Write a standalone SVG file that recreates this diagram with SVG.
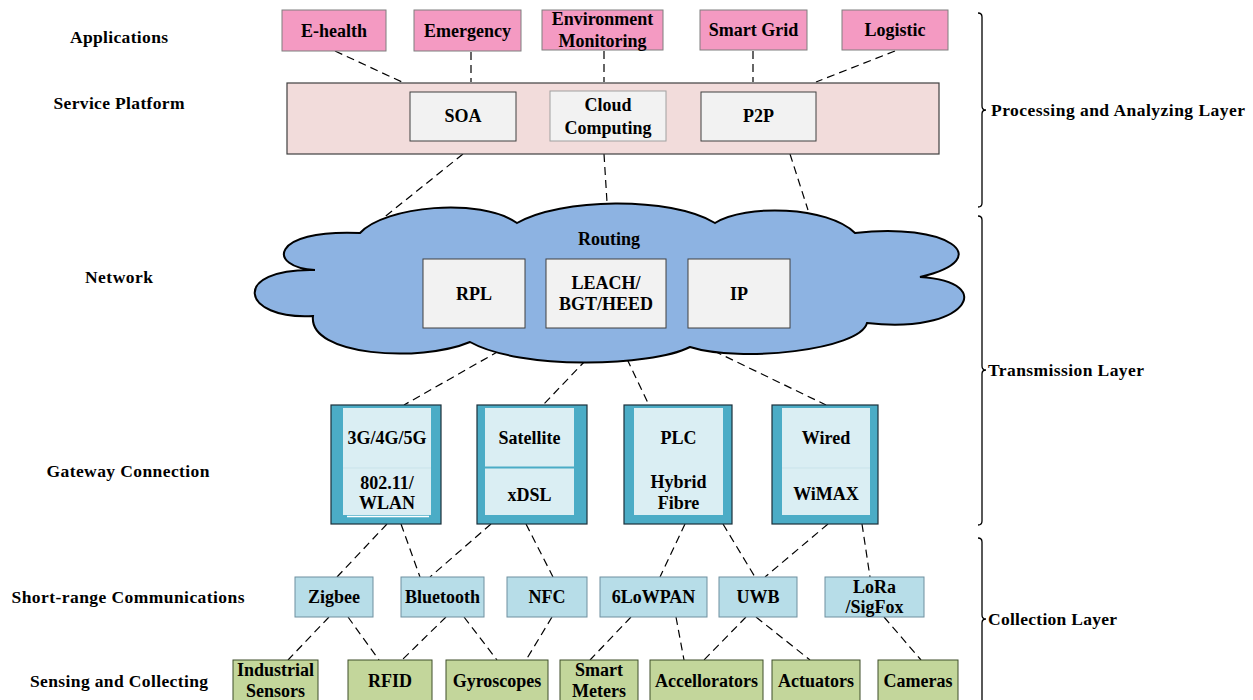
<svg xmlns="http://www.w3.org/2000/svg" width="1253" height="700" viewBox="0 0 1253 700">
<style>
text{font-family:"Liberation Serif","Times New Roman",serif;font-weight:bold;fill:#000}
.n{font-size:18px;text-anchor:middle}
.lbl{font-size:17.5px;text-anchor:middle}
.lay{font-size:17.5px}
.app{fill:#f49ac2;stroke:#7f7f7f;stroke-width:1}
.gray{fill:#f2f2f2;stroke:#404040;stroke-width:1}
.gw{fill:#4bacc6;stroke:#1b2f3a;stroke-width:1.2}
.gwi{fill:#daeef3;stroke:none}
.sr{fill:#b7dde8;stroke:#6f8f9f;stroke-width:1}
.sc{fill:#c3d69b;stroke:#3f4f2a;stroke-width:1}
.c line{stroke:#000;stroke-width:1.2;stroke-dasharray:8,5;fill:none}
.br{fill:none;stroke:#000;stroke-width:1.3}
</style>

<!-- left labels -->
<g id="left-labels">
<text class="lbl" x="119" y="43" textLength="98">Applications</text>
<text class="lbl" x="119" y="109" textLength="131">Service Platform</text>
<text class="lbl" x="119" y="283" textLength="68">Network</text>
<text class="lbl" x="128" y="477" textLength="163">Gateway Connection</text>
<text class="lbl" x="128" y="603" textLength="233">Short-range Communications</text>
<text class="lbl" x="119" y="687" textLength="178">Sensing and Collecting</text>
</g>

<!-- connectors -->
<g id="connectors" class="c">
<line x1="335" y1="51" x2="402" y2="82"/>
<line x1="471" y1="52" x2="471" y2="82"/>
<line x1="604" y1="51" x2="604" y2="82"/>
<line x1="753" y1="51" x2="753" y2="82"/>
<line x1="895" y1="51" x2="816" y2="82"/>
<line x1="463" y1="154" x2="382" y2="219"/>
<line x1="604" y1="154" x2="607" y2="202"/>
<line x1="790" y1="154" x2="808" y2="210"/>
<line x1="499" y1="351" x2="404" y2="405"/>
<line x1="586" y1="360" x2="543" y2="405"/>
<line x1="627" y1="359" x2="649" y2="405"/>
<line x1="714" y1="351" x2="826" y2="405"/>
<line x1="387" y1="524" x2="337" y2="577"/>
<line x1="401" y1="524" x2="420" y2="577"/>
<line x1="491" y1="524" x2="430" y2="577"/>
<line x1="526" y1="524" x2="553" y2="577"/>
<line x1="685" y1="524" x2="660" y2="577"/>
<line x1="723" y1="524" x2="755" y2="577"/>
<line x1="828" y1="524" x2="765" y2="577"/>
<line x1="862" y1="524" x2="870" y2="577"/>
<line x1="329" y1="617" x2="288" y2="660"/>
<line x1="348" y1="617" x2="379" y2="660"/>
<line x1="446" y1="617" x2="402" y2="660"/>
<line x1="464" y1="617" x2="497" y2="660"/>
<line x1="552" y1="617" x2="526" y2="660"/>
<line x1="631" y1="617" x2="590" y2="660"/>
<line x1="676" y1="617" x2="684" y2="660"/>
<line x1="746" y1="617" x2="704" y2="660"/>
<line x1="756" y1="617" x2="810" y2="660"/>
<line x1="884" y1="617" x2="921" y2="660"/>
</g>

<!-- applications -->
<g id="app-ehealth"><rect class="app" x="282" y="10" width="104" height="41"/><text class="n" x="334" y="37">E-health</text></g>
<g id="app-emergency"><rect class="app" x="414" y="10" width="107" height="41"/><text class="n" x="467.5" y="37">Emergency</text></g>
<g id="app-environment"><rect class="app" x="542" y="10" width="121" height="40"/><text class="n" x="602.5" y="25">Environment</text><text class="n" x="602.5" y="47">Monitoring</text></g>
<g id="app-smartgrid"><rect class="app" x="700" y="10" width="107" height="40"/><text class="n" x="753.5" y="36">Smart Grid</text></g>
<g id="app-logistic"><rect class="app" x="842" y="10" width="106" height="40"/><text class="n" x="895" y="36">Logistic</text></g>

<!-- service platform -->
<g id="service-platform">
<rect x="287" y="83" width="652" height="71" fill="#f2dcdb" stroke="#404040" stroke-width="1.2"/>
</g>
<g id="sp-soa"><rect class="gray" x="410" y="92" width="106" height="49"/><text class="n" x="463" y="122">SOA</text></g>
<g id="sp-cloud"><rect x="550" y="91" width="116" height="50" fill="#f2f2f2" stroke="#a0a0a0" stroke-width="1"/><text class="n" x="608" y="111">Cloud</text><text class="n" x="608" y="134">Computing</text></g>
<g id="sp-p2p"><rect class="gray" x="701" y="92" width="115" height="49"/><text class="n" x="758.5" y="122">P2P</text></g>

<!-- network cloud -->
<g id="network-cloud">
<path d="M360,233 C385,206 480,197 517,223 C560,198 670,196 715,223 C745,204 828,206 855,233 C945,222 1000,258 920,277 C1000,282 965,335 867,323 C860,350 740,363 690,347 C650,367 520,370 470,342 C420,363 308,356 313,316 C240,320 230,268 315,270 C268,268 268,229 360,233 Z" fill="#8db3e2" stroke="#000" stroke-width="2"/>
<text class="n" x="609" y="245">Routing</text>
</g>
<g id="net-rpl"><rect class="gray" x="423" y="259" width="102" height="69" stroke="#595959"/><text class="n" x="474" y="300">RPL</text></g>
<g id="net-leach"><rect class="gray" x="546" y="259" width="120" height="69" stroke="#595959"/><text class="n" x="606" y="289">LEACH/</text><text class="n" x="606" y="310">BGT/HEED</text></g>
<g id="net-ip"><rect class="gray" x="688" y="259" width="102" height="69" stroke="#595959"/><text class="n" x="739" y="300">IP</text></g>

<!-- gateway connection -->
<g id="gw-1">
<rect class="gw" x="331" y="405" width="110" height="119"/>
<rect class="gwi" x="343" y="408" width="88" height="107"/>
<line x1="343" y1="468" x2="431" y2="468" stroke="#c9e3ea" stroke-width="1"/>
<line x1="347" y1="516.5" x2="429" y2="516.5" stroke="#ffffff" stroke-width="1.5"/>
<text class="n" x="387" y="444">3G/4G/5G</text>
<text class="n" x="387" y="489">802.11/</text>
<text class="n" x="387" y="509">WLAN</text>
</g>
<g id="gw-2">
<rect class="gw" x="477" y="405" width="110" height="119"/>
<rect class="gwi" x="485" y="408" width="89" height="107"/>
<line x1="485" y1="467.5" x2="574" y2="467.5" stroke="#4bacc6" stroke-width="2"/>
<text class="n" x="529.5" y="444">Satellite</text>
<text class="n" x="529.5" y="501">xDSL</text>
</g>
<g id="gw-3">
<rect class="gw" x="624" y="405" width="108" height="119"/>
<rect class="gwi" x="634" y="408" width="89" height="107"/>
<text class="n" x="678.5" y="444">PLC</text>
<text class="n" x="678.5" y="488">Hybrid</text>
<text class="n" x="678.5" y="509">Fibre</text>
</g>
<g id="gw-4">
<rect class="gw" x="772" y="405" width="106" height="119"/>
<rect class="gwi" x="782" y="408" width="88" height="107"/>
<line x1="782" y1="468" x2="870" y2="468" stroke="#c9e3ea" stroke-width="1"/>
<text class="n" x="826" y="444">Wired</text>
<text class="n" x="826" y="500">WiMAX</text>
</g>

<!-- short-range -->
<g id="sr-zigbee"><rect class="sr" x="295" y="577" width="78" height="40"/><text class="n" x="334" y="603">Zigbee</text></g>
<g id="sr-bluetooth"><rect class="sr" x="401" y="577" width="83" height="40"/><text class="n" x="442.5" y="603">Bluetooth</text></g>
<g id="sr-nfc"><rect class="sr" x="507" y="577" width="80" height="40"/><text class="n" x="547" y="603">NFC</text></g>
<g id="sr-6lowpan"><rect class="sr" x="600" y="577" width="107" height="40"/><text class="n" x="653.5" y="603">6LoWPAN</text></g>
<g id="sr-uwb"><rect class="sr" x="719" y="577" width="78" height="40"/><text class="n" x="758" y="603">UWB</text></g>
<g id="sr-lora"><rect class="sr" x="825" y="577" width="99" height="40" stroke="#1f2f4f"/><text class="n" x="874.5" y="593">LoRa</text><text class="n" x="874.5" y="613">/SigFox</text></g>

<!-- sensing -->
<g id="sc-industrial"><rect class="sc" x="233" y="660" width="85" height="45"/><text class="n" x="275.5" y="676">Industrial</text><text class="n" x="275.5" y="697">Sensors</text></g>
<g id="sc-rfid"><rect class="sc" x="348" y="660" width="84" height="45"/><text class="n" x="390" y="687">RFID</text></g>
<g id="sc-gyro"><rect class="sc" x="446" y="660" width="102" height="45"/><text class="n" x="497" y="687">Gyroscopes</text></g>
<g id="sc-smartmeters"><rect class="sc" x="560" y="660" width="78" height="45"/><text class="n" x="599" y="676">Smart</text><text class="n" x="599" y="697">Meters</text></g>
<g id="sc-accel"><rect class="sc" x="650" y="660" width="113" height="45"/><text class="n" x="706.5" y="687">Accellorators</text></g>
<g id="sc-actuators"><rect class="sc" x="772" y="660" width="88" height="45"/><text class="n" x="816" y="687">Actuators</text></g>
<g id="sc-cameras"><rect class="sc" x="878" y="660" width="80" height="45"/><text class="n" x="918" y="687">Cameras</text></g>

<!-- layer brackets -->
<g id="layer-processing">
<path class="br" d="M978,13 Q982,13 982,17 L982,106 Q982,110 986,110 Q982,110 982,114 L982,203 Q982,207 978,207"/>
<text class="lay" x="991" y="116" textLength="254">Processing and Analyzing Layer</text>
</g>
<g id="layer-transmission">
<path class="br" d="M978,216 Q982,216 982,220 L982,366 Q982,370 986,370 Q982,370 982,374 L982,521 Q982,525 978,525"/>
<text class="lay" x="988" y="376" textLength="156">Transmission Layer</text>
</g>
<g id="layer-collection">
<path class="br" d="M978,538 Q982,538 982,542 L982,615 Q982,619 986,619 Q982,619 982,623 L982,705"/>
<text class="lay" x="988" y="625" textLength="129">Collection Layer</text>
</g>
</svg>
